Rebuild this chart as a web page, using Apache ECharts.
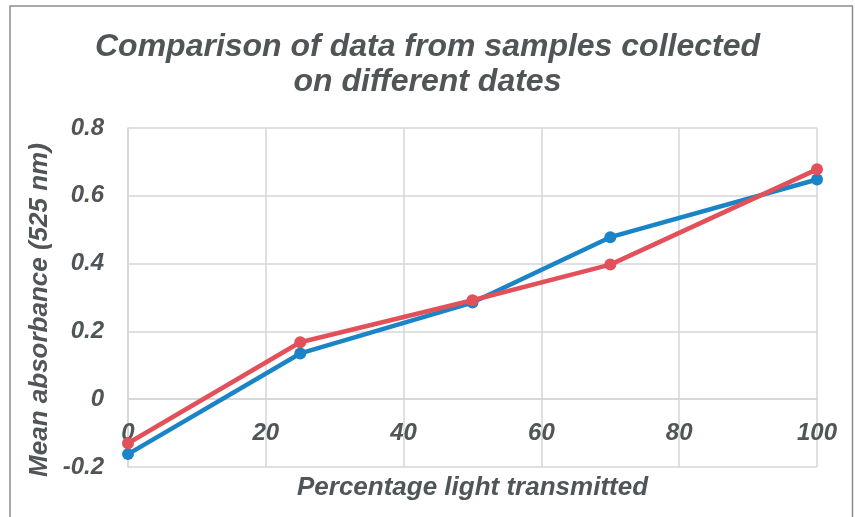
<!DOCTYPE html>
<html><head><meta charset="utf-8">
<script src="https://cdn.jsdelivr.net/npm/echarts@6/dist/echarts.min.js"></script>
<style>html,body{margin:0;padding:0;background:#fff}#c{width:855px;height:517px}</style>
</head><body><div id="c"></div>
<script>
const xValues = [0, 25, 50, 70, 100];
const seriesBlue = [-0.162, 0.135, 0.285, 0.478, 0.648];
const seriesRed = [-0.13, 0.168, 0.292, 0.397, 0.678];
const yTicks = [-0.2, 0, 0.2, 0.4, 0.6, 0.8];
const xTicks = [0, 20, 40, 60, 80, 100];
const titleText = 'Comparison of data from samples collected\non different dates';
const xName = 'Percentage light transmitted';
const yName = 'Mean absorbance (525 nm)';

const txt = '#505558';
const gridC = '#d3d6d8';
const gridTop = 128, gridBottom = 50, H = 517;
const plotH = H - gridTop - gridBottom;
const yMin = -0.2, yMax = 0.8;
const zeroOffset = -plotH * (0 - yMin) / (yMax - yMin);
const chart = echarts.init(document.getElementById('c'), null, {renderer: 'canvas'});
chart.setOption({
  animation: false,
  backgroundColor: '#fff',
  title: {
    text: titleText, left: 'center', top: 25,
    textStyle: {fontFamily: 'Liberation Sans', fontWeight: 'bold', fontStyle: 'italic', fontSize: 32, lineHeight: 35, color: txt}
  },
  grid: {left: 128, right: 38, top: gridTop, bottom: gridBottom, outerBoundsMode: 'none', containLabel: false},
  xAxis: {
    type: 'value', min: 0, max: 100, interval: 20, offset: zeroOffset,
    axisLine: {show: true, onZero: false, lineStyle: {color: gridC, width: 1.5}},
    axisTick: {show: false},
    splitLine: {show: true, lineStyle: {color: gridC, width: 1.5}},
    axisLabel: {margin: 22, fontFamily: 'Liberation Sans', fontWeight: 'bold', fontStyle: 'italic', fontSize: 24, color: txt,
      formatter: v => xTicks.includes(v) ? String(v) : ''},
    name: xName, nameLocation: 'middle', nameGap: 76,
    nameTextStyle: {fontFamily: 'Liberation Sans', fontWeight: 'bold', fontStyle: 'italic', fontSize: 26, color: txt}
  },
  yAxis: {
    type: 'value', min: yMin, max: yMax, interval: 0.2,
    axisLine: {show: true, lineStyle: {color: gridC, width: 1.5}},
    axisTick: {show: false},
    splitLine: {show: true, lineStyle: {color: gridC, width: 1.5}},
    axisLabel: {margin: 24, fontFamily: 'Liberation Sans', fontWeight: 'bold', fontStyle: 'italic', fontSize: 24, color: txt,
      formatter: v => { const t = yTicks.find(k => Math.abs(k - v) < 1e-9); return t === undefined ? '' : String(t); }}
  },
  graphic: [
    {type: 'polyline', shape: {points: [[10, 517], [10, 6], [852.5, 6], [852.5, 517]]}, style: {stroke: '#8a8d90', lineWidth: 1.5, fill: null}, silent: true},
    {type: 'text', x: 40, y: 310, rotation: Math.PI / 2,
      style: {text: yName, align: 'center', verticalAlign: 'middle', fontFamily: 'Liberation Sans', fontWeight: 'bold', fontStyle: 'italic', fontSize: 26, fill: txt}}
  ],
  series: [
    {type: 'line', data: xValues.map((x, i) => [x, seriesBlue[i]]), symbol: 'circle', symbolSize: 12,
      lineStyle: {color: '#1a84c7', width: 4.5}, itemStyle: {color: '#1a84c7'}, z: 3},
    {type: 'line', data: xValues.map((x, i) => [x, seriesRed[i]]), symbol: 'circle', symbolSize: 12,
      lineStyle: {color: '#e2505a', width: 4.5}, itemStyle: {color: '#e2505a'}, z: 4}
  ]
});
</script></body></html>
